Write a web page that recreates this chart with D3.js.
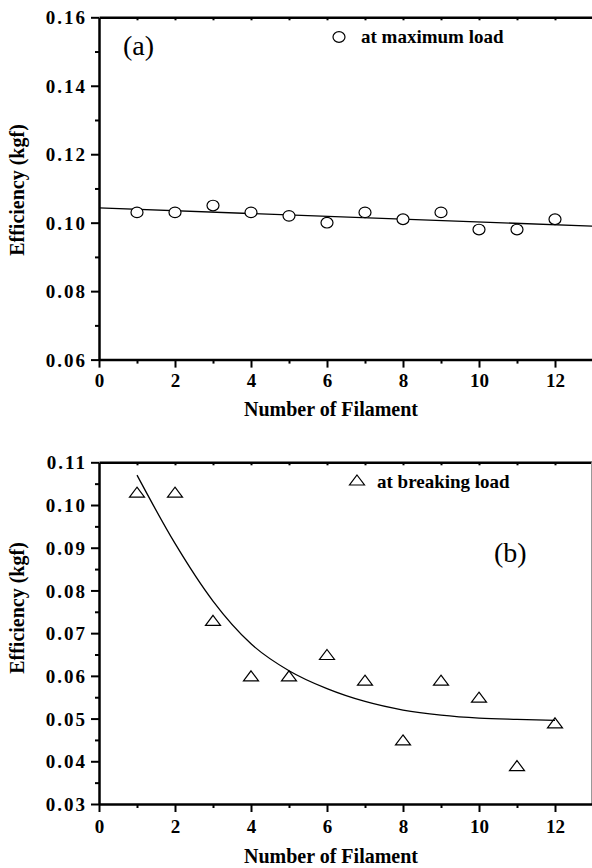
<!DOCTYPE html>
<html>
<head>
<meta charset="utf-8">
<script src="https://cdn.jsdelivr.net/npm/d3@7"></script>
<style>
  body { margin: 0; background: #fff; }
  svg { display: block; }
</style>
</head>
<body>
<svg id="chart" width="592" height="868"></svg>
<script>
// Filament counts (x values)
const filaments = [1, 2, 3, 4, 5, 6, 7, 8, 9, 10, 11, 12];

// (a) efficiency at maximum load
const maxLoad = [0.103, 0.103, 0.105, 0.103, 0.102, 0.100, 0.103, 0.101, 0.103, 0.098, 0.098, 0.101];

// (b) efficiency at breaking load
const breakLoad = [0.103, 0.103, 0.073, 0.060, 0.060, 0.065, 0.059, 0.045, 0.059, 0.055, 0.039, 0.049];

// Fit lines
const fitAX = [0, 13];
const fitAY = [0.1043, 0.0990];
const fitBX = [1, 2, 3, 4, 5, 6, 7, 8, 9, 10, 11, 12];
const fitBY = [0.1070, 0.0910, 0.0775, 0.0675, 0.0612, 0.0570, 0.0540, 0.0520, 0.0508, 0.0501, 0.0498, 0.0496];

// Ticks
const xTicks = [0, 2, 4, 6, 8, 10, 12];
const xMinor = [1, 3, 5, 7, 9, 11];
const xTopTicks = [1, 2, 3, 4, 5, 6, 7, 8, 9, 10, 11, 12];
const yTicksA = [0.06, 0.08, 0.10, 0.12, 0.14, 0.16];
const yMinorA = [0.07, 0.09, 0.11, 0.13, 0.15];
const yTicksB = [0.03, 0.04, 0.05, 0.06, 0.07, 0.08, 0.09, 0.10, 0.11];
const yMinorB = [0.035, 0.045, 0.055, 0.065, 0.075, 0.085, 0.095, 0.105];

const FONT = 'Liberation Serif';
const svg = d3.select('#chart');
const x = d3.scaleLinear().domain([0, 13]).range([99, 593]);

function styleAxis(g, width) {
    g.attr('font-family', FONT).attr('font-size', null);
    g.select('.domain').attr('stroke', '#000').attr('stroke-width', width);
    g.selectAll('.tick line').attr('stroke', '#000').attr('stroke-width', 2);
}

function drawPanel(p) {
    const y = d3.scaleLinear().domain(p.yDomain).range(p.yRange);
    const top = p.yRange[1], bottom = p.yRange[0];
    const g = svg.append('g');

    // minor ticks first
    g.append('g').attr('transform', `translate(0,${bottom})`)
        .call(d3.axisBottom(x).tickValues(xMinor).tickSize(4).tickSizeOuter(0).tickFormat(''))
        .call(s => styleAxis(s, 0));
    g.append('g').attr('transform', `translate(${x(0)},0)`)
        .call(d3.axisLeft(y).tickValues(p.yMinor).tickSize(4).tickSizeOuter(0).tickFormat(''))
        .call(s => styleAxis(s, 0));

    // top axis with small inward ticks
    g.append('g').attr('transform', `translate(0,${top})`)
        .call(d3.axisTop(x).tickValues(xTopTicks).tickSize(-3).tickSizeOuter(0).tickFormat(''))
        .call(s => styleAxis(s, 2.5));

    // right frame line (bottom panel only, cut by the picture edge)
    if (p.rightLine) {
        g.append('line')
            .attr('x1', 591.5).attr('x2', 591.5)
            .attr('y1', top).attr('y2', bottom)
            .attr('stroke', '#999').attr('stroke-width', 1);
    }

    // bottom axis
    const xa = g.append('g').attr('transform', `translate(0,${bottom})`)
        .call(d3.axisBottom(x).tickValues(xTicks).tickSize(8).tickSizeOuter(0).tickFormat(d3.format('d')))
        .call(s => styleAxis(s, 2.5));
    xa.selectAll('text')
        .attr('dy', null).attr('y', p.xLabelY)
        .attr('fill', '#000').attr('font-family', FONT)
        .attr('font-size', 19).attr('font-weight', 'bold');

    // left axis
    const ya = g.append('g').attr('transform', `translate(${x(0)},0)`)
        .call(d3.axisLeft(y).tickValues(p.yTicks).tickSize(8).tickSizeOuter(0).tickFormat(d3.format('.2f')))
        .call(s => styleAxis(s, 2.5));
    ya.selectAll('text')
        .attr('x', -12).attr('dy', '0.35em')
        .attr('fill', '#000').attr('font-family', FONT)
        .attr('font-size', 19).attr('font-weight', 'bold')
        .attr('letter-spacing', '2px');

    // axis titles
    g.append('text')
        .attr('x', 331).attr('y', bottom + p.titleOffset)
        .attr('text-anchor', 'middle').attr('font-family', FONT)
        .attr('font-size', 20).attr('font-weight', 'bold')
        .text('Number of Filament');
    g.append('text')
        .attr('transform', `translate(24,${p.yTitleCenter}) rotate(-90)`)
        .attr('text-anchor', 'middle').attr('font-family', FONT)
        .attr('font-size', 20).attr('font-weight', 'bold')
        .text('Efficiency (kgf)');

    // fit line
    const line = d3.line().x(d => x(d[0])).y(d => y(d[1])).curve(p.curve);
    g.append('path')
        .datum(d3.zip(p.fitX, p.fitY))
        .attr('fill', 'none')
        .attr('stroke', '#000')
        .attr('stroke-width', 1.3)
        .attr('d', line);

    // data markers
    const pts = d3.zip(filaments, p.values);
    if (p.marker === 'circle') {
        g.selectAll('ellipse.pt').data(pts).join('ellipse')
            .attr('class', 'pt')
            .attr('cx', d => x(d[0])).attr('cy', d => y(d[1]))
            .attr('rx', 6).attr('ry', 5.3)
            .attr('fill', '#fff').attr('stroke', '#000').attr('stroke-width', 1.2);
    } else {
        g.selectAll('path.pt').data(pts).join('path')
            .attr('class', 'pt')
            .attr('transform', d => `translate(${x(d[0])},${y(d[1])})`)
            .attr('d', 'M0,-5L7.5,5L-7.5,5Z')
            .attr('fill', 'none').attr('stroke', '#000').attr('stroke-width', 1.2);
    }

    // legend
    if (p.marker === 'circle') {
        g.append('ellipse')
            .attr('cx', p.legend[0]).attr('cy', p.legend[1])
            .attr('rx', 6).attr('ry', 5.3)
            .attr('fill', '#fff').attr('stroke', '#000').attr('stroke-width', 1.2);
    } else {
        g.append('path')
            .attr('transform', `translate(${p.legend[0]},${p.legend[1]})`)
            .attr('d', 'M0,-5L7.5,5L-7.5,5Z')
            .attr('fill', 'none').attr('stroke', '#000').attr('stroke-width', 1.2);
    }
    g.append('text')
        .attr('x', p.legend[2]).attr('y', p.legend[3])
        .attr('font-family', FONT)
        .attr('font-size', 19).attr('font-weight', 'bold')
        .text(p.legendText);

    // panel letter
    g.append('text')
        .attr('x', p.letterPos[0]).attr('y', p.letterPos[1])
        .attr('font-family', FONT)
        .attr('font-size', 28)
        .text(p.letter);
}

drawPanel({
    yDomain: [0.06, 0.16], yRange: [359.6, 17.3],
    yTicks: yTicksA, yMinor: yMinorA,
    values: maxLoad, marker: 'circle',
    fitX: fitAX, fitY: fitAY, curve: d3.curveLinear,
    xLabelY: 27, titleOffset: 56, yTitleCenter: 190,
    legend: [339, 37, 361, 43], legendText: 'at maximum load',
    letter: '(a)', letterPos: [123, 55],
    rightLine: false
});

drawPanel({
    yDomain: [0.03, 0.11], yRange: [804, 462.3],
    yTicks: yTicksB, yMinor: yMinorB,
    values: breakLoad, marker: 'triangle',
    fitX: fitBX, fitY: fitBY, curve: d3.curveMonotoneX,
    xLabelY: 29, titleOffset: 59, yTitleCenter: 608,
    legend: [357, 480, 377, 488], legendText: 'at breaking load',
    letter: '(b)', letterPos: [494, 562],
    rightLine: true
});
</script>
</body>
</html>
